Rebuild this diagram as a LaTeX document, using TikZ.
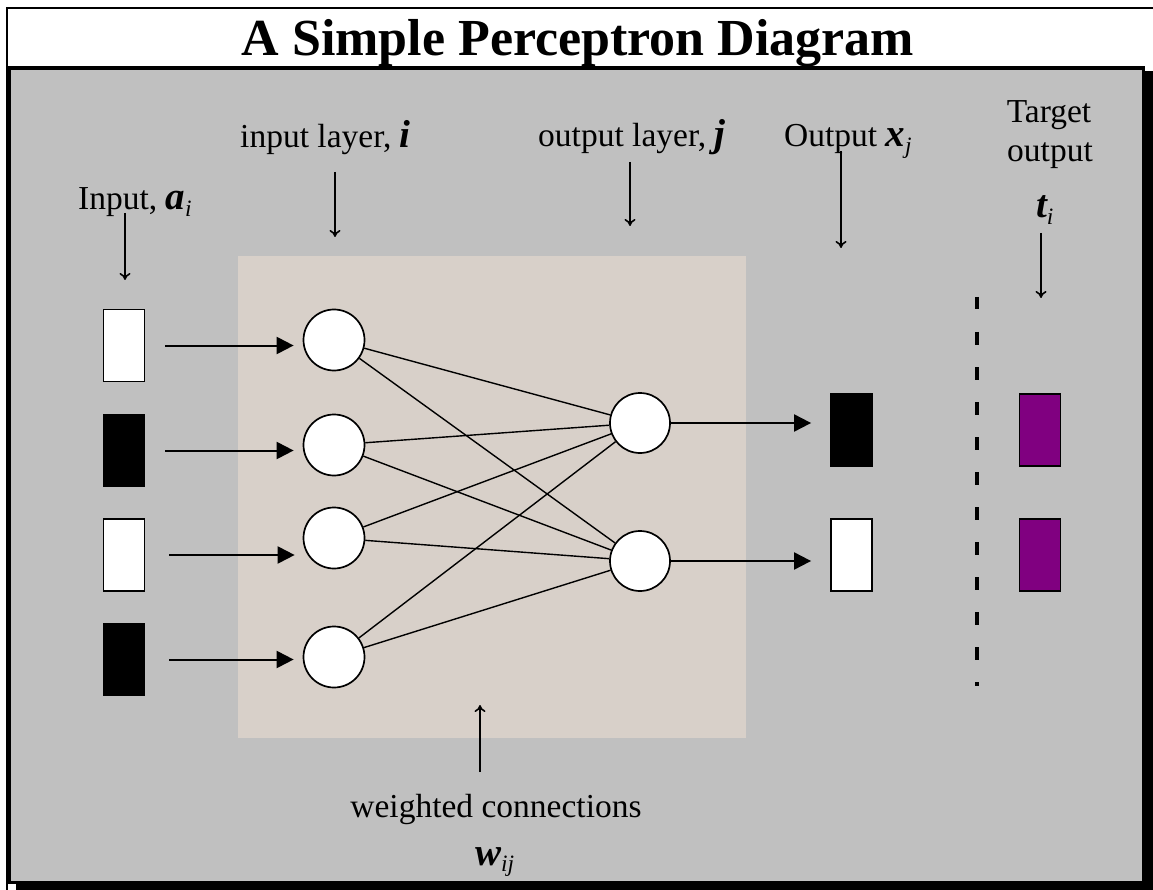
\documentclass[tikz,border=0pt]{standalone}
\usepackage{fontspec}
\setmainfont{Liberation Serif}
\usetikzlibrary{arrows.meta}
\definecolor{panelgray}{RGB}{192,192,192}
\definecolor{beige}{RGB}{216,208,201}
\definecolor{tpurple}{RGB}{128,0,128}
\newcommand{\bv}[1]{{\fontsize{39}{40}\selectfont\bfseries\itshape #1}}
\newcommand{\sbs}[1]{\textsubscript{\itshape #1}}
\begin{document}
\begin{tikzpicture}[x=1pt,y=-1pt,
  lab/.style={inner sep=0pt,font=\fontsize{33.5}{38}\selectfont},
  neuron/.style={circle,draw=black,fill=white,line width=1.7pt,minimum size=61pt,inner sep=0pt},
  unit/.style={rectangle,draw=black,line width=1.8pt,minimum width=41pt,minimum height=72pt,inner sep=0pt},
  conn/.style={line width=1.4pt},
  harrow/.style={line width=2pt,-{Triangle[length=17pt,width=17pt]}},
  labarrow/.style={line width=1.6pt,-{To[length=7pt,width=11pt]}}
]
\useasboundingbox (0,0) rectangle (1153,890);
% background and frame
\fill[white] (0,0) rectangle (1153,890);
\draw[line width=2pt] (7,890) -- (7,8) -- (1153,8);
\fill[black] (16,71) rectangle (1153,890);
\fill[black] (6,66) rectangle (1145,884);
\fill[panelgray] (11,70) rectangle (1142,881);
\fill[beige] (238,256) rectangle (746,738);

% title
\node[anchor=base,inner sep=0pt] (title) at (578,56) {\fontsize{52}{56}\selectfont\bfseries A Simple Perceptron Diagram};

% labels
\node[lab,anchor=base west] (lbinput) at (78,210) {Input, \bv{a}\sbs{i}};
\node[lab,anchor=base west] (lbil) at (240,148) {input layer, \bv{i}};
\node[lab,anchor=base west] (lbol) at (538,147) {output layer, \bv{j}};
\node[lab,anchor=base west] (lbout) at (784,147) {Output \bv{x}\sbs{j}};
\node[lab,anchor=base] (lbt1) at (1049,123) {Target};
\node[lab,anchor=base] (lbt2) at (1050,162) {output};
\node[lab,anchor=base] (lbt3) at (1045,218) {\bv{t}\sbs{i}};
\node[lab,anchor=base] (lbwc) at (496,817) {weighted connections};
\node[lab,anchor=base west] (lbw) at (475,865) {\bv{w}\sbs{ij}};

% label arrows
\coordinate (a1s) at (125,213); \coordinate (a1e) at (125,280);
\coordinate (a2s) at (335,172); \coordinate (a2e) at (335,237);
\coordinate (a3s) at (630,162); \coordinate (a3e) at (630,226);
\coordinate (a4s) at (841,151); \coordinate (a4e) at (841,248);
\coordinate (a5s) at (1041,233); \coordinate (a5e) at (1041,298);
\coordinate (a6s) at (480,772); \coordinate (a6e) at (480,705);
\draw[labarrow] (a1s) -- (a1e);
\draw[labarrow] (a2s) -- (a2e);
\draw[labarrow] (a3s) -- (a3e);
\draw[labarrow] (a4s) -- (a4e);
\draw[labarrow] (a5s) -- (a5e);
\draw[labarrow] (a6s) -- (a6e);

% input units
\node[unit,fill=white] (r1) at (124,345.5) {};
\node[unit,fill=black] (r2) at (124,450.5) {};
\node[unit,fill=white] (r3) at (124,555) {};
\node[unit,fill=black] (r4) at (124,659.5) {};

% neurons
\node[neuron] (in1) at (334,340) {};
\node[neuron] (in2) at (334,445) {};
\node[neuron] (in3) at (334,538) {};
\node[neuron] (in4) at (334,657) {};
\node[neuron,minimum size=60pt] (out1) at (640,423) {};
\node[neuron,minimum size=60pt] (out2) at (640,561) {};

% weighted connections
\foreach \i in {1,2,3,4} {
  \foreach \j in {1,2} {
    \draw[conn] (in\i) -- (out\j);
  }
}

% output and target units
\node[unit,fill=black] (o1) at (851.5,430) {};
\node[unit,fill=white] (o2) at (851.5,555) {};
\node[unit,fill=tpurple] (t1) at (1040,430) {};
\node[unit,fill=tpurple] (t2) at (1040,555) {};

% input arrows
\draw[harrow,shorten <=20pt,shorten >=9pt] (r1.east) -- (r1.east -| in1.west);
\draw[harrow,shorten <=20pt,shorten >=9pt] (r2.east) -- (r2.east -| in2.west);
\draw[harrow,shorten <=24pt,shorten >=8pt] (r3.east) -- (r3.east -| in3.west);
\draw[harrow,shorten <=24pt,shorten >=9pt] (r4.east) -- (r4.east -| in4.west);

% output arrows
\draw[harrow,shorten >=19pt] (out1.east) -- (out1.east -| o1.west);
\draw[harrow,shorten >=19pt] (out2.east) -- (out2.east -| o2.west);

% divider
\draw[line width=4.5pt,dash pattern=on 12.5pt off 22.5pt] (977,297) -- (977,686);
\end{tikzpicture}
\end{document}
